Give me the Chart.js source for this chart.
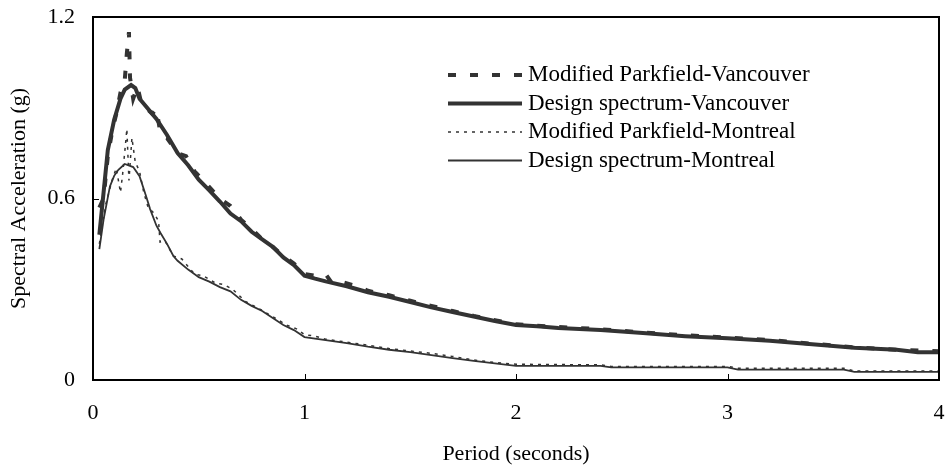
<!DOCTYPE html>
<html>
<head>
<meta charset="utf-8">
<script src="https://cdn.jsdelivr.net/npm/chart.js@4.4.1/dist/chart.umd.min.js"></script>
<style>
  html, body { margin: 0; padding: 0; background: #fff; }
  #wrap { width: 946px; height: 473px; position: relative; }
</style>
</head>
<body>
<div id="wrap"><canvas id="c" width="946" height="473"></canvas></div>
<script>
// ---- data (period in seconds, spectral acceleration in g) ----
const seriesNames = [
  "Modified Parkfield-Vancouver",
  "Design spectrum-Vancouver",
  "Modified Parkfield-Montreal",
  "Design spectrum-Montreal"
];

const modVanPeriods = [0.03,0.05,0.07,0.09,0.11,0.13,0.15,0.16,0.17,0.175,0.19,0.21,0.23,0.25,0.28,0.30,0.32,0.35,0.40,0.44,0.48,0.52,0.56,0.60,0.65,0.70,0.75,0.80,0.85,0.90,0.95,1.00,1.05,1.10,1.13,1.17,1.25,1.30,1.40,1.50,1.60,1.70,1.80,1.90,2.00,2.20,2.40,2.60,2.80,3.00,3.20,3.40,3.60,3.80,4.00];
const modVanValues  = [0.57,0.60,0.74,0.82,0.88,0.95,0.99,1.08,1.15,1.00,0.93,0.97,0.91,0.90,0.88,0.896,0.81,0.80,0.75,0.74,0.69,0.66,0.63,0.60,0.575,0.53,0.50,0.465,0.44,0.41,0.385,0.35,0.345,0.35,0.32,0.325,0.31,0.295,0.28,0.262,0.245,0.228,0.212,0.198,0.184,0.175,0.168,0.157,0.148,0.14,0.132,0.12,0.108,0.10,0.095];

const desVanPeriods = [0.03,0.05,0.07,0.10,0.13,0.15,0.18,0.20,0.22,0.25,0.30,0.35,0.40,0.45,0.50,0.55,0.60,0.65,0.70,0.75,0.80,0.85,0.90,0.95,1.00,1.05,1.10,1.20,1.30,1.40,1.50,1.60,1.70,1.80,1.90,2.00,2.10,2.20,2.40,2.60,2.80,3.00,3.20,3.40,3.60,3.80,3.90,4.00];
const desVanValues  = [0.48,0.62,0.76,0.86,0.93,0.96,0.975,0.965,0.93,0.905,0.863,0.81,0.75,0.71,0.662,0.627,0.59,0.55,0.525,0.49,0.465,0.44,0.405,0.38,0.345,0.335,0.326,0.31,0.29,0.275,0.258,0.24,0.225,0.21,0.195,0.182,0.178,0.172,0.165,0.155,0.145,0.138,0.13,0.118,0.107,0.10,0.092,0.092];

const modMonPeriods = [0.03,0.06,0.09,0.11,0.13,0.14,0.155,0.16,0.17,0.184,0.20,0.22,0.24,0.26,0.29,0.31,0.317,0.34,0.38,0.42,0.48,0.52,0.58,0.62,0.66,0.72,0.80,0.86,0.92,0.96,1.00,1.05,1.10,1.20,1.30,1.40,1.50,1.60,1.70,1.80,1.90,2.00,2.40,2.45,3.00,3.05,3.55,3.60,4.00];
const modMonValues  = [0.45,0.58,0.66,0.70,0.62,0.68,0.79,0.83,0.66,0.80,0.72,0.69,0.62,0.572,0.55,0.525,0.456,0.46,0.41,0.40,0.35,0.345,0.32,0.315,0.30,0.26,0.23,0.205,0.18,0.17,0.15,0.145,0.135,0.125,0.115,0.104,0.096,0.088,0.078,0.066,0.058,0.052,0.05,0.045,0.045,0.039,0.039,0.03,0.03];

const desMonPeriods = [0.03,0.05,0.08,0.10,0.12,0.15,0.19,0.22,0.25,0.27,0.30,0.32,0.35,0.38,0.40,0.45,0.50,0.55,0.60,0.65,0.70,0.75,0.80,0.85,0.90,0.95,1.00,1.10,1.20,1.30,1.40,1.50,1.60,1.70,1.80,1.90,2.00,2.40,2.45,3.00,3.05,3.55,3.60,4.00];
const desMonValues  = [0.433,0.53,0.64,0.675,0.695,0.714,0.704,0.674,0.61,0.565,0.51,0.485,0.45,0.41,0.394,0.365,0.34,0.325,0.307,0.293,0.265,0.245,0.228,0.205,0.182,0.165,0.142,0.132,0.122,0.11,0.10,0.092,0.082,0.072,0.063,0.055,0.047,0.047,0.042,0.042,0.034,0.034,0.027,0.027];

const xTickValues = [0, 1, 2, 3, 4];
const yTickValues = [0, 0.6, 1.2];
const xTitle = "Period (seconds)";
const yTitle = "Spectral Acceleration (g)";

const toPoints = (xs, ys) => xs.map((x, i) => ({ x: x, y: ys[i] }));

const FONT = "'Liberation Serif', 'Times New Roman', serif";
const LINE = '#333333';

const frame = {
  id: 'frame',
  afterDraw(chart) {
    const { ctx, chartArea: { left, right, top, bottom }, scales: { x, y } } = chart;
    ctx.save();
    ctx.strokeStyle = '#000';
    ctx.lineWidth = 1;
    x.ticks.forEach(t => {
      const px = Math.round(x.getPixelForValue(t.value)) + 0.5;
      ctx.beginPath(); ctx.moveTo(px, bottom); ctx.lineTo(px, bottom - 6); ctx.stroke();
    });
    y.ticks.forEach(t => {
      const py = Math.round(y.getPixelForValue(t.value)) + 0.5;
      ctx.beginPath(); ctx.moveTo(left, py); ctx.lineTo(left + 6, py); ctx.stroke();
    });
    ctx.lineWidth = 2;
    ctx.strokeRect(left, top, right - left, bottom - top);
    ctx.restore();
  }
};

const insideLegend = {
  id: 'insideLegend',
  afterDraw(chart) {
    const { ctx } = chart;
    const x0 = 448, x1 = 522, tx = 528, y0 = 75, dy = 28.5;
    ctx.save();
    chart.data.datasets.forEach((ds, i) => {
      const yy = y0 + i * dy;
      ctx.strokeStyle = ds.borderColor;
      ctx.lineWidth = ds.borderWidth;
      ctx.setLineDash(ds.borderDash || []);
      ctx.beginPath(); ctx.moveTo(x0, yy); ctx.lineTo(x1, yy); ctx.stroke();
      ctx.setLineDash([]);
      ctx.fillStyle = '#000';
      ctx.font = "23px " + FONT;
      ctx.textBaseline = 'middle';
      ctx.textAlign = 'left';
      ctx.fillText(ds.label, tx, yy);
    });
    ctx.restore();
  }
};

const noPad = s => { s.paddingTop = 0; s.paddingBottom = 0; s.paddingLeft = 0; s.paddingRight = 0; };

new Chart(document.getElementById('c'), {
  type: 'line',
  data: {
    datasets: [
      { label: seriesNames[0], data: toPoints(modVanPeriods, modVanValues), borderColor: LINE, borderWidth: 4, borderDash: [8, 14], pointRadius: 0, tension: 0, fill: false },
      { label: seriesNames[1], data: toPoints(desVanPeriods, desVanValues), borderColor: LINE, borderWidth: 4, pointRadius: 0, tension: 0, fill: false },
      { label: seriesNames[2], data: toPoints(modMonPeriods, modMonValues), borderColor: LINE, borderWidth: 1.5, borderDash: [3, 5], pointRadius: 0, tension: 0, fill: false },
      { label: seriesNames[3], data: toPoints(desMonPeriods, desMonValues), borderColor: LINE, borderWidth: 1.8, pointRadius: 0, tension: 0, fill: false }
    ]
  },
  options: {
    responsive: false,
    animation: false,
    devicePixelRatio: 1,
    layout: { padding: { top: 17, right: 7, bottom: 0, left: 0 } },
    plugins: { legend: { display: false }, tooltip: { enabled: false } },
    scales: {
      x: {
        type: 'linear', min: 0, max: 4,
        afterBuildTicks: s => { s.ticks = xTickValues.map(v => ({ value: v })); },
        afterFit: s => { s.height = 93; noPad(s); },
        grid: { display: false, drawTicks: false },
        border: { display: false },
        ticks: { color: '#000', font: { family: FONT, size: 22 }, padding: 20, maxRotation: 0, autoSkip: false, callback: v => String(v) },
        title: { display: true, text: xTitle, color: '#000', font: { family: FONT, size: 22 }, padding: { top: 0, bottom: 6 } }
      },
      y: {
        type: 'linear', min: 0, max: 1.2,
        afterBuildTicks: s => { s.ticks = yTickValues.map(v => ({ value: v })); },
        afterFit: s => { s.width = 93; noPad(s); },
        grid: { display: false, drawTicks: false },
        border: { display: false },
        ticks: { color: '#000', font: { family: FONT, size: 22 }, padding: 18, autoSkip: false, callback: v => String(v) },
        title: { display: true, text: yTitle, color: '#000', font: { family: FONT, size: 22 }, padding: { top: 6, bottom: 0 } }
      }
    }
  },
  plugins: [frame, insideLegend]
});
</script>
</body>
</html>
